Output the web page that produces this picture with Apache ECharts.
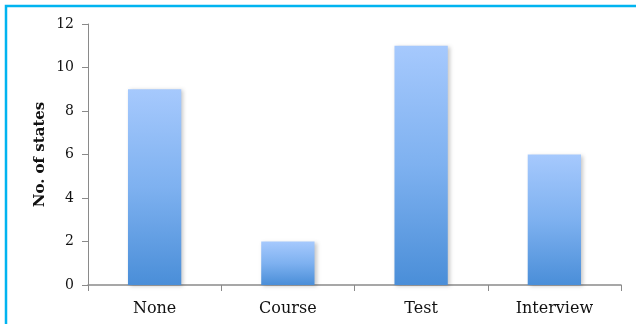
<!DOCTYPE html>
<html>
<head>
<meta charset="utf-8">
<script src="https://cdn.jsdelivr.net/npm/echarts@6/dist/echarts.min.js"></script>
<style>
  html, body { margin: 0; padding: 0; background: #fff; }
  #chart { width: 636px; height: 324px; }
</style>
</head>
<body>
<div id="chart"></div>
<script>
// data
var categories = ['None', 'Course', 'Test', 'Interview'];
var states = [9, 2, 11, 6];
var yTicks = [0, 2, 4, 6, 8, 10, 12];

var chart = echarts.init(document.getElementById('chart'));
var axisColor = '#8a8a8a';
var serif = '"DejaVu Serif", serif';

chart.setOption({
    animation: false,
    graphic: [
        {
            // blue frame, clipped at right and bottom like the original
            type: 'rect',
            shape: { x: 6, y: 6, width: 800, height: 500 },
            style: { fill: 'none', stroke: '#00b4f0', lineWidth: 2.5 }
        }
    ],
    grid: { left: 88, right: 15, top: 24, bottom: 39 },
    xAxis: {
        type: 'category',
        data: categories,
        axisLine: { lineStyle: { color: axisColor, width: 1.5 } },
        axisTick: { show: true, length: 6, lineStyle: { color: axisColor } },
        axisLabel: { color: '#111', fontFamily: serif, fontSize: 16, margin: 16 }
    },
    yAxis: {
        type: 'value',
        min: yTicks[0],
        max: yTicks[yTicks.length - 1],
        interval: 2,
        name: 'No. of states',
        nameLocation: 'middle',
        nameGap: 40,
        nameMoveOverlap: false,
        nameTextStyle: { color: '#111', fontFamily: serif, fontSize: 15, fontWeight: 'bold' },
        axisLine: { show: true, lineStyle: { color: axisColor, width: 1 } },
        axisTick: { show: true, length: 6, lineStyle: { color: axisColor } },
        axisLabel: { color: '#111', fontFamily: serif, fontSize: 14, margin: 14 },
        splitLine: { show: false }
    },
    series: [
        {
            type: 'bar',
            data: states,
            barWidth: '40%',
            itemStyle: {
                color: new echarts.graphic.LinearGradient(0, 0, 0, 1, [
                    { offset: 0, color: '#a6c9fd' },
                    { offset: 0.5, color: '#7eb1f0' },
                    { offset: 1, color: '#4a8ed8' }
                ]),
                shadowColor: 'rgba(0,0,0,0.22)',
                shadowBlur: 4,
                shadowOffsetX: 2,
                shadowOffsetY: 1
            }
        }
    ]
});
</script>
</body>
</html>
